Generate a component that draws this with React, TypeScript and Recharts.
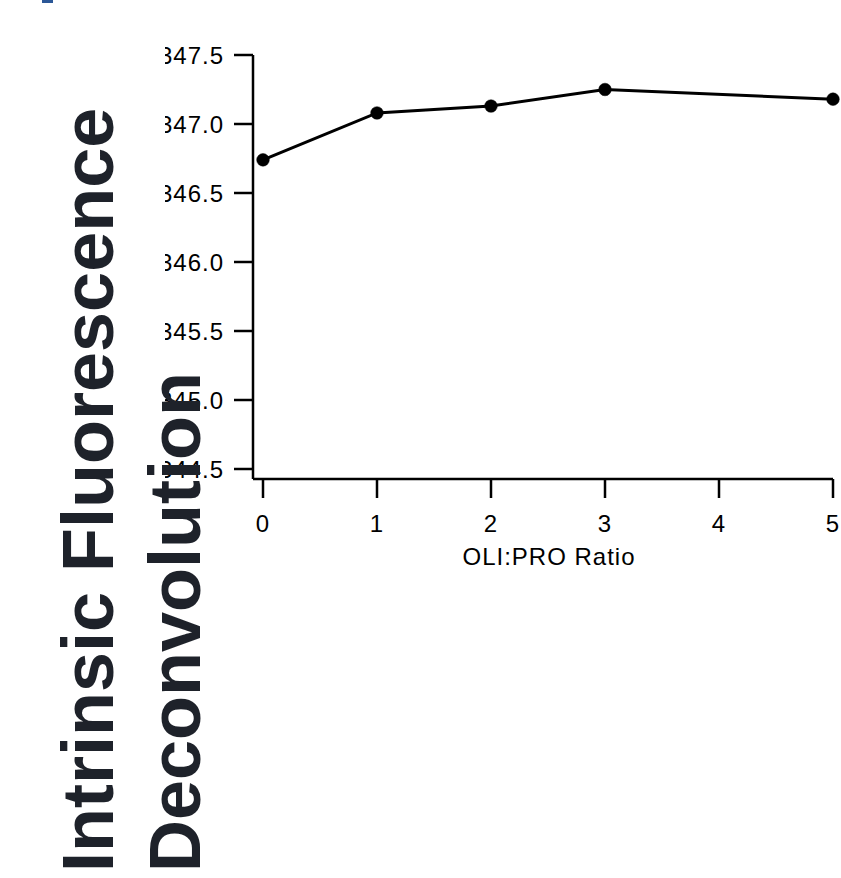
import { LineChart, Line, XAxis, YAxis } from "recharts";

const RATIOS = [0, 1, 2, 3, 5];
const WAVELENGTH = [346.74, 347.08, 347.13, 347.25, 347.18];
const X_TICKS = [0, 1, 2, 3, 4, 5];
const Y_TICKS = [344.5, 345.0, 345.5, 346.0, 346.5, 347.0, 347.5];

const data = RATIOS.map((r, i) => ({ ratio: r, value: WAVELENGTH[i] }));

const FONT = "'Liberation Sans', Arial, sans-serif";
const TICK = { fontSize: 24, fontFamily: FONT, fill: "#000", letterSpacing: 1 };
const AXIS = { stroke: "#000", strokeWidth: 2.5 };

export default function App() {
  return (
    <div
      style={{
        position: "absolute",
        left: 0,
        top: 0,
        width: 841,
        height: 878,
        background: "#fff",
        overflow: "hidden",
      }}
    >
      {/* bit of a panel marker cut off at the top */}
      <div
        style={{
          position: "absolute",
          left: 42,
          top: 0,
          width: 11,
          height: 3,
          background: "#2b5797",
        }}
      />
      <div style={{ position: "absolute", left: 165, top: 0, overflow: "hidden" }}>
        <LineChart
          width={676}
          height={569}
          data={data}
          margin={{ top: 55, right: 8, bottom: 0, left: 0 }}
        >
          <XAxis
            type="number"
            dataKey="ratio"
            domain={[0, 5]}
            ticks={X_TICKS}
            padding={{ left: 10, right: 0 }}
            height={90}
            tickSize={19}
            tickMargin={17}
            tick={TICK}
            tickLine={AXIS}
            axisLine={AXIS}
            label={{
              value: "OLI:PRO Ratio",
              position: "insideBottom",
              offset: 4,
              dx: 6,
              fontSize: 24,
              letterSpacing: 1,
              fontFamily: FONT,
              fill: "#000",
            }}
          />
          <YAxis
            type="number"
            domain={[344.5, 347.5]}
            ticks={Y_TICKS}
            padding={{ top: 0, bottom: 10 }}
            width={88}
            tickSize={19}
            tickMargin={10}
            tick={TICK}
            tickLine={AXIS}
            axisLine={AXIS}
            tickFormatter={(v: number) => v.toFixed(1)}
          />
          <Line
            dataKey="value"
            stroke="#000"
            strokeWidth={3}
            dot={{ r: 6.3, fill: "#000", stroke: "#000", strokeWidth: 0.5 }}
            isAnimationActive={false}
          />
        </LineChart>
      </div>
      <div
        style={{
          position: "absolute",
          left: 45,
          top: 872,
          transformOrigin: "left top",
          transform: "rotate(-90deg)",
          whiteSpace: "nowrap",
          fontFamily: FONT,
          fontWeight: "bold",
          fontSize: 72,
          lineHeight: "87px",
          color: "#1e222a",
        }}
      >
        <div>Intrinsic Fluorescence</div>
        <div>Deconvolution</div>
      </div>
    </div>
  );
}
